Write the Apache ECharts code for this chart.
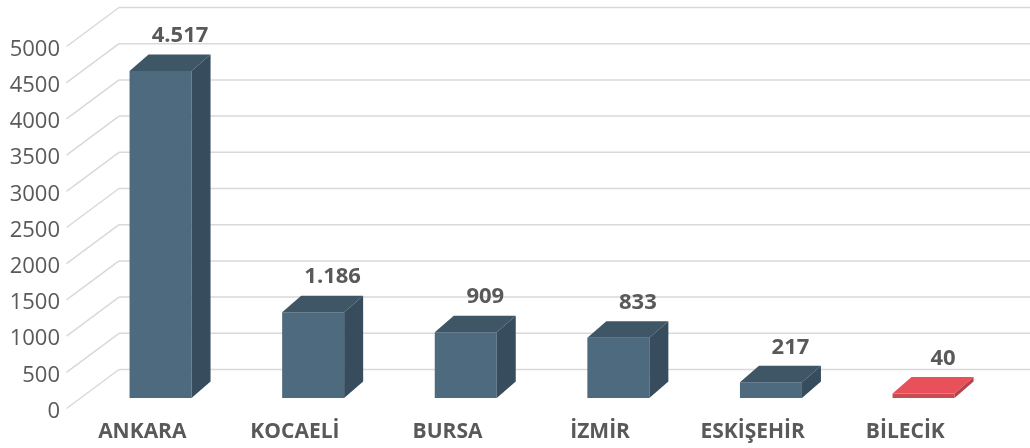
<!DOCTYPE html>
<html>
<head>
<meta charset="utf-8">
<script src="https://cdn.jsdelivr.net/npm/echarts@6/dist/echarts.min.js"></script>
<style>
html,body{margin:0;padding:0;background:#fff;}
#chart{width:1030px;height:448px;}
</style>
</head>
<body>
<div id="chart"></div>
<script>
var categories = ['ANKARA', 'KOCAELİ', 'BURSA', 'İZMİR', 'ESKİŞEHİR', 'BİLECİK'];
var values = [4517, 1186, 909, 833, 217, 40];
var yTicks = [0, 500, 1000, 1500, 2000, 2500, 3000, 3500, 4000, 4500, 5000];

function fmt(v) {
  var s = String(v);
  return s.replace(/\B(?=(\d{3})+(?!\d))/g, '.');
}

var FONT = '"Open Sans", sans-serif';
var BAR_DX = 18.25, BAR_W = 62, BASE_DY = -13.5, DEPTH_X = 19, DEPTH_Y = -16.5;
var BACK_DX = 53, BACK_DY = -42, FRONT_DY = -3;

var chart = echarts.init(document.getElementById('chart'), null, {renderer: 'canvas'});

chart.setOption({
  animation: false,
  backgroundColor: '#ffffff',
  grid: {left: 66, right: 48.4, top: 49.5, bottom: 36.5},
  xAxis: {
    type: 'category',
    data: categories,
    axisLine: {show: false},
    axisTick: {show: false},
    axisLabel: {
      margin: 10,
      fontFamily: FONT,
      fontSize: 21,
      fontWeight: 'bold',
      color: '#595959'
    }
  },
  yAxis: {
    type: 'value',
    min: 0,
    max: 5000,
    interval: 500,
    axisLine: {show: false},
    axisTick: {show: false},
    splitLine: {show: false},
    axisLabel: {
      margin: 6,
      fontFamily: FONT,
      fontSize: 22,
      color: '#595959',
      formatter: function (v) { return String(v); }
    }
  },
  series: [
    {
      type: 'custom',
      z: 1,
      silent: true,
      data: yTicks.map(function (t) { return [0, t]; }),
      renderItem: function (params, api) {
        var cs = params.coordSys;
        var c = api.coord([0, api.value(1)]);
        var y = c[1];
        var x0 = cs.x;
        return {
          type: 'group',
          children: [
            {
              type: 'line',
              shape: {x1: x0 + 0.5, y1: y + FRONT_DY, x2: x0 + BACK_DX, y2: y + BACK_DY},
              style: {stroke: '#d9d9d9', lineWidth: 1.5}
            },
            {
              type: 'line',
              shape: {x1: x0 + BACK_DX, y1: y + BACK_DY, x2: api.getWidth(), y2: y + BACK_DY},
              style: {stroke: '#d9d9d9', lineWidth: 1.5}
            }
          ]
        };
      }
    },
    {
      type: 'custom',
      z: 2,
      data: values.map(function (v, i) { return [i, v]; }),
      renderItem: function (params, api) {
        var i = api.value(0);
        var v = api.value(1);
        var pTop = api.coord([i, v]);
        var pBase = api.coord([i, 0]);
        var cx = pTop[0] + BAR_DX;
        var xl = cx - BAR_W / 2, xr = cx + BAR_W / 2;
        var yb = pBase[1] + BASE_DY;
        var yt = pTop[1] + BASE_DY;
        if (yb - yt < 4) { yt = yb - 4.5; }
        var red = (i === categories.length - 1);
        var cFront = red ? '#cc4a52' : '#4e6a7f';
        var cTop = red ? '#e8505a' : '#3f5666';
        var cSide = red ? '#b9424a' : '#374d5d';
        return {
          type: 'group',
          children: [
            {
              type: 'polygon',
              shape: {points: [[xl, yb], [xr, yb], [xr, yt], [xl, yt]]},
              style: {fill: cFront}
            },
            {
              type: 'polygon',
              shape: {points: [[xl, yt], [xr, yt], [xr + DEPTH_X, yt + DEPTH_Y], [xl + DEPTH_X, yt + DEPTH_Y]]},
              style: {fill: cTop}
            },
            {
              type: 'polygon',
              shape: {points: [[xr, yb], [xr + DEPTH_X, yb + DEPTH_Y], [xr + DEPTH_X, yt + DEPTH_Y], [xr, yt]]},
              style: {fill: cSide}
            },
            {
              type: 'text',
              style: {
                x: cx + 19.5,
                y: yt - 35,
                text: fmt(v),
                align: 'center',
                verticalAlign: 'middle',
                fontFamily: FONT,
                fontSize: 22,
                fontWeight: 'bold',
                fill: '#595959'
              }
            }
          ]
        };
      }
    }
  ]
});
</script>
</body>
</html>
